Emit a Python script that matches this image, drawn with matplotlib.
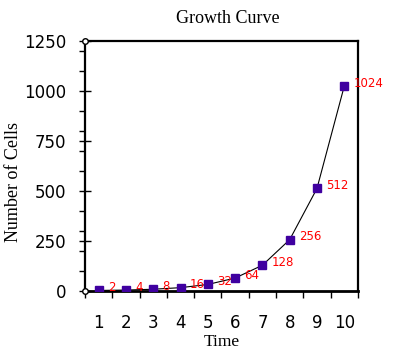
import matplotlib
matplotlib.use("Agg")
import matplotlib.pyplot as plt
from matplotlib.ticker import MultipleLocator, FixedLocator

# data
time = [1, 2, 3, 4, 5, 6, 7, 8, 9, 10]
cells = [2, 4, 8, 16, 32, 64, 128, 256, 512, 1024]
x_labels = ["1", "2", "3", "4", "5", "6", "7", "8", "9", "10"]

serif = ["Liberation Serif", "DejaVu Serif"]
purple = "#3f00a0"

fig = plt.figure(figsize=(3.99, 3.56), dpi=100)
ax = fig.add_axes([0.213, 0.183, 0.684, 0.702])

ax.plot(time, cells, color="black", linewidth=0.8, zorder=2)
ax.plot(time, cells, linestyle="none", marker="s", markersize=6,
        markerfacecolor=purple, markeredgecolor=purple, zorder=3)

for t, c in zip(time, cells):
    ax.annotate(str(c), (t, c), xytext=(6.5, 2), textcoords="offset points",
                color="red", fontsize=8.5, va="center", ha="left")

ax.set_xlim(0.5, 10.5)
ax.set_ylim(0, 1250)

# y ticks: labelled majors every 250 crossing the axis, minors every 100 outside
ax.yaxis.set_major_locator(MultipleLocator(250))
ax.yaxis.set_minor_locator(MultipleLocator(100))
ax.tick_params(axis="y", which="major", direction="inout", length=9, width=1,
               pad=9, labelsize=12)
ax.tick_params(axis="y", which="minor", direction="out", length=4, width=1)

# x: tick marks between categories, labels at category centres
ax.xaxis.set_major_locator(FixedLocator(time))
ax.set_xticklabels(x_labels)
ax.xaxis.set_minor_locator(FixedLocator([i + 0.5 for i in range(11)]))
ax.tick_params(axis="x", which="major", length=0, pad=17, labelsize=12)
ax.tick_params(axis="x", which="minor", direction="out", length=5, width=1)
for lab in ax.get_xticklabels() + ax.get_yticklabels():
    lab.set_fontweight("medium")

for side in ax.spines.values():
    side.set_linewidth(1.6)
ax.spines["bottom"].set_linewidth(2)

# small open circles at the left corners
ax.plot([0.5, 0.5], [0, 1250], linestyle="none", marker="o", markersize=4,
        markerfacecolor="white", markeredgecolor="black", markeredgewidth=1,
        clip_on=False, zorder=5)

ax.set_title("Growth Curve", fontsize=13, family=serif, pad=13, x=0.525)
ax.set_xlabel("Time", fontsize=12.5, family=serif, labelpad=1)
ax.set_ylabel("Number of Cells", fontsize=13, family=serif)
ax.yaxis.set_label_coords(-0.23, 0.436)

fig.savefig("out.png", dpi=100)
